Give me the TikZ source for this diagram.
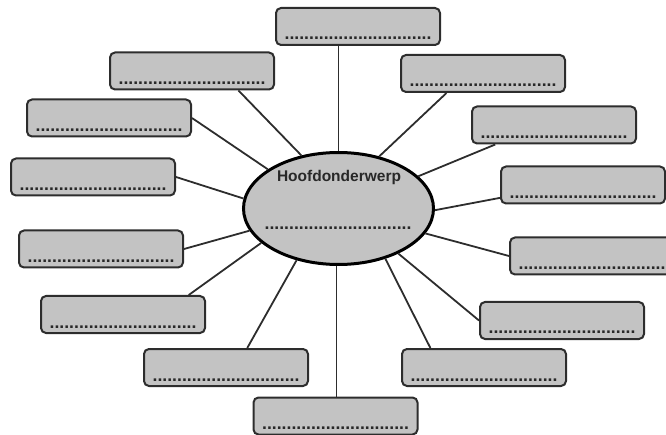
\documentclass[tikz,border=0pt]{standalone}
\usepackage{fontspec}
\setmainfont{Liberation Sans}
\usetikzlibrary{calc,shapes.geometric}
\definecolor{boxfill}{RGB}{195,195,195}
\definecolor{boxline}{RGB}{45,45,45}
\definecolor{txt}{RGB}{40,40,40}
\newcommand{\dotrow}{..............................}
\tikzset{
  leafbox/.style={draw=boxline, line width=2pt, fill=boxfill, rounded corners=5pt,
    minimum width=164pt, minimum height=37pt, inner sep=0pt},
  dotline/.style={anchor=base, inner sep=0pt, text=txt,
    font=\fontsize{17.6pt}{18pt}\selectfont\bfseries},
  topic/.style={draw=black, line width=3pt, fill=boxfill, ellipse,
    minimum width=190pt, minimum height=112pt, inner sep=0pt},
  conn/.style={draw=boxline, line width=1.8pt},
}
\begin{document}
\begin{tikzpicture}[x=1pt,y=-1pt]
\useasboundingbox (0,0) rectangle (666,435);
\begin{scope}
\clip (0,0) rectangle (666,435);
% central ellipse
\node[topic] (e) at (338.5,208.5) {};
\node[anchor=base, inner sep=0pt, text=txt, font=\fontsize{15.5pt}{17pt}\selectfont\bfseries] (etitle) at (339,182) {Hoofdonderwerp};
\node[dotline] (edots) at (338,229.5) {\dotrow};
% boxes
\node[leafbox] (b1) at (358,26.5) {};
\node[leafbox] (b2) at (192,71) {};
\node[leafbox] (b3) at (483,73.5) {};
\node[leafbox] (b4) at (109,118) {};
\node[leafbox] (b5) at (554,125) {};
\node[leafbox] (b6) at (93,177) {};
\node[leafbox] (b7) at (583,185) {};
\node[leafbox] (b8) at (101,249) {};
\node[leafbox] (b9) at (592,256) {};
\node[leafbox] (b10) at (123,314.5) {};
\node[leafbox] (b11) at (562,320.5) {};
\node[leafbox] (b12) at (226,367.5) {};
\node[leafbox] (b13) at (484,367.5) {};
\node[leafbox] (b14) at (335.5,416) {};
\foreach \b in {b1,b2,b3,b4,b5,b6,b7,b8,b9,b10,b11,b12,b13,b14}{
  \node[dotline] (\b d) at ([yshift=6pt]\b.south) {\dotrow};
}
% connectors
\draw[conn] (e.90) -- (e.90 |- b1.south);
\draw[conn] (e.125) -- ($(b2.south west)!0.78!(b2.south east)$);
\draw[conn] (e.151) -- (b4.east);
\draw[conn] (e.174) -- (b6.east);
\draw[conn] (e.52.6) -- ($(b3.south west)!0.28!(b3.south east)$);
\draw[conn] (e.22) -- ($(b5.south west)!0.146!(b5.south east)$);
\draw[conn] (e.-1) -- ($(b7.north west)!0.83!(b7.south west)$);
\draw[conn] (e.194.8) -- (b8.east);
\draw[conn] (e.204) -- ($(b10.north west)!0.896!(b10.north east)$);
\draw[conn] (e.231.5) -- ($(b12.north west)!0.628!(b12.north east)$);
\draw[conn] (e.-16.5) -- (b9.west);
\draw[conn] (e.-37.2) -- (b11.west);
\draw[conn] (e.-47.3) -- ($(b13.north west)!0.177!(b13.north east)$);
\draw[conn] (e.268) -- (e.268 |- b14.north);
\end{scope}
\end{tikzpicture}
\end{document}
